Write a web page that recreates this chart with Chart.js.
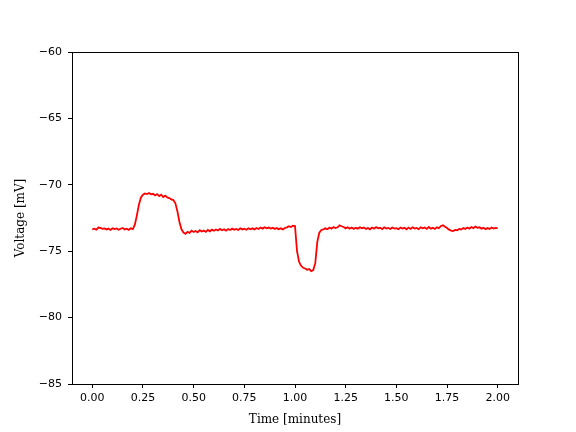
<!DOCTYPE html>
<html>
<head>
<meta charset="utf-8">
<script src="https://cdn.jsdelivr.net/npm/chart.js@4.4.1/dist/chart.umd.min.js"></script>
<style>
  html, body { margin: 0; padding: 0; background: #fff; }
  canvas { display: block; }
</style>
</head>
<body>
<canvas id="traceCanvas" width="576" height="432"></canvas>
<script>
// Recording: membrane voltage sampled every 0.01 min from 0.00 to 2.00
const startTime = 0.0;
const sampleStep = 0.01;
const voltage = [
    -73.35, -73.30, -73.38, -73.22, -73.25, -73.32, -73.28, -73.36, -73.30, -73.40,
    -73.27, -73.34, -73.29, -73.38, -73.31, -73.25, -73.36, -73.30, -73.39, -73.28,
    -73.33, -73.00, -72.30, -71.50, -70.95, -70.75, -70.65, -70.70, -70.62, -70.72,
    -70.68, -70.80, -70.70, -70.85, -70.75, -70.92, -70.82, -70.95, -71.00, -71.10,
    -71.15, -71.40, -72.00, -72.80, -73.35, -73.60, -73.70, -73.55, -73.62, -73.45,
    -73.55, -73.48, -73.58, -73.42, -73.52, -73.45, -73.55, -73.40, -73.50, -73.38,
    -73.46, -73.36, -73.44, -73.32, -73.42, -73.35, -73.45, -73.33, -73.40, -73.30,
    -73.38, -73.32, -73.40, -73.28, -73.36, -73.30, -73.38, -73.27, -73.35, -73.28,
    -73.36, -73.25, -73.33, -73.22, -73.30, -73.20, -73.28, -73.22, -73.30, -73.24,
    -73.32, -73.26, -73.34, -73.28, -73.36, -73.25, -73.20, -73.12, -73.18, -73.08,
    -73.10, -75.00, -75.80, -76.10, -76.25, -76.30, -76.40, -76.35, -76.50, -76.42,
    -75.90, -74.30, -73.60, -73.40, -73.35, -73.28, -73.35, -73.22, -73.30, -73.18,
    -73.26, -73.20, -73.05, -73.12, -73.18, -73.28, -73.20, -73.30, -73.22, -73.32,
    -73.24, -73.30, -73.20, -73.28, -73.22, -73.32, -73.25, -73.35, -73.22, -73.30,
    -73.18, -73.28, -73.24, -73.34, -73.20, -73.30, -73.25, -73.33, -73.22, -73.30,
    -73.26, -73.34, -73.22, -73.30, -73.24, -73.35, -73.22, -73.32, -73.20, -73.30,
    -73.25, -73.34, -73.20, -73.28, -73.22, -73.32, -73.18, -73.30, -73.24, -73.33,
    -73.20, -73.26, -73.10, -73.05, -73.15, -73.25, -73.38, -73.45, -73.48, -73.40,
    -73.42, -73.32, -73.36, -73.26, -73.32, -73.22, -73.30, -73.18, -73.26, -73.15,
    -73.24, -73.20, -73.30, -73.24, -73.34, -73.26, -73.32, -73.22, -73.30, -73.25,
    -73.28
];

const xTicks = [0, 0.25, 0.5, 0.75, 1.0, 1.25, 1.5, 1.75, 2.0];
const yTicks = [-85, -80, -75, -70, -65, -60];

const points = voltage.map((v, i) => ({ x: startTime + i * sampleStep, y: v }));

// draws the full box around the plot area, like matplotlib spines
const frame = {
    id: 'frame',
    afterDraw: (chart) => {
        const a = chart.chartArea;
        const ctx = chart.ctx;
        ctx.save();
        ctx.strokeStyle = '#000';
        ctx.lineWidth = 1;
        ctx.strokeRect(Math.round(a.left) + 0.5, Math.round(a.top) + 0.5,
            Math.round(a.right - a.left), Math.round(a.bottom - a.top));
        ctx.restore();
    }
};

const tickFont = { family: 'DejaVu Sans', size: 11 };
const titleFont = { family: 'DejaVu Serif', size: 12 };

new Chart(document.getElementById('traceCanvas'), {
    type: 'line',
    data: {
        datasets: [{
            data: points,
            borderColor: '#ff0000',
            borderWidth: 1.8,
            pointRadius: 0,
            tension: 0,
            fill: false
        }]
    },
    options: {
        responsive: false,
        animation: false,
        devicePixelRatio: 1,
        layout: { padding: { top: 52, right: 58, left: 0, bottom: 0 } },
        plugins: { legend: { display: false }, tooltip: { enabled: false } },
        scales: {
            x: {
                type: 'linear',
                min: -0.1,
                max: 2.1,
                afterBuildTicks: (s) => { s.ticks = xTicks.map(v => ({ value: v })); },
                afterFit: (s) => { s.height = 48; },
                ticks: {
                    font: tickFont,
                    color: '#000',
                    padding: 4,
                    maxRotation: 0,
                    callback: (v) => v.toFixed(2)
                },
                grid: { drawOnChartArea: false, drawTicks: true, tickLength: 4, color: '#000' },
                border: { display: true, color: '#000' },
                title: { display: true, text: 'Time [minutes]', font: titleFont, color: '#000', padding: { top: 3, bottom: 5 } }
            },
            y: {
                type: 'linear',
                min: -85,
                max: -60,
                afterBuildTicks: (s) => { s.ticks = yTicks.map(v => ({ value: v })); },
                afterFit: (s) => { s.width = 72; },
                ticks: {
                    font: tickFont,
                    color: '#000',
                    padding: 6,
                    callback: (v) => String(v).replace('-', '\u2212')
                },
                grid: { drawOnChartArea: false, drawTicks: true, tickLength: 4, color: '#000' },
                border: { display: true, color: '#000' },
                title: { display: true, text: 'Voltage [mV]', font: titleFont, color: '#000', padding: { top: 14, bottom: 6 } }
            }
        }
    },
    plugins: [frame]
});
</script>
</body>
</html>
